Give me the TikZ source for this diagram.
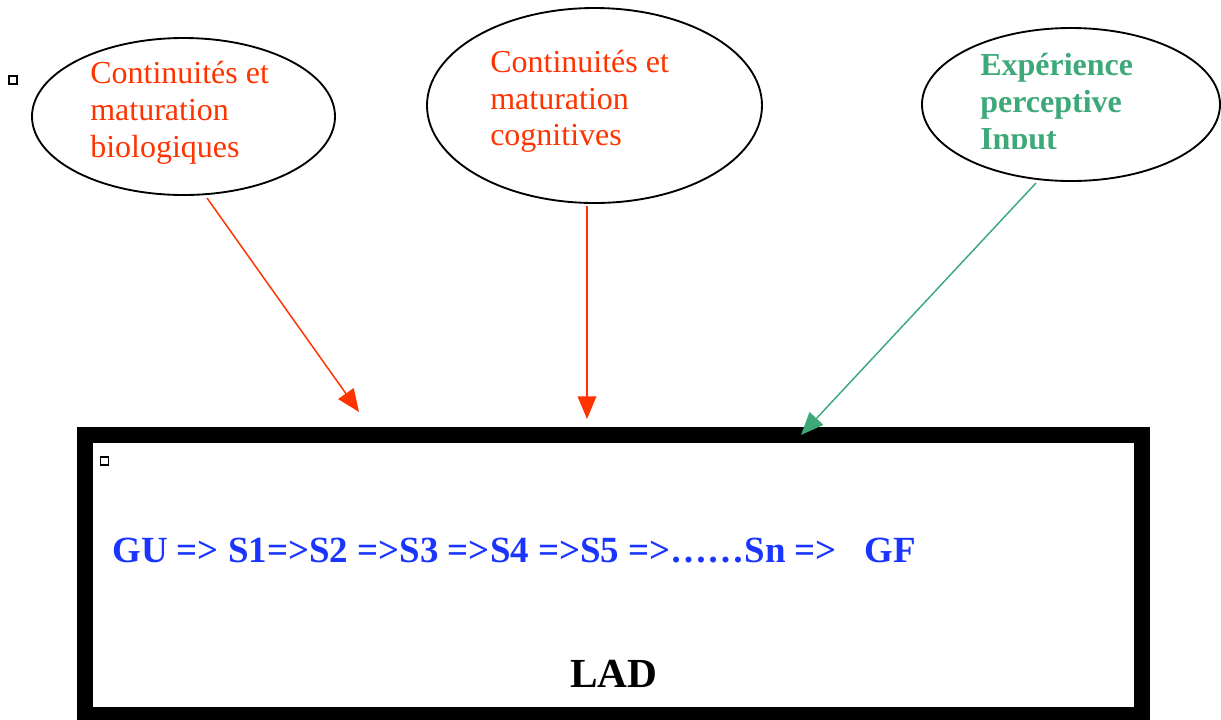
\documentclass[tikz,border=0pt]{standalone}
\usepackage{fontspec}
\setmainfont{Liberation Serif}
\usetikzlibrary{arrows.meta,shapes.geometric}
\definecolor{redt}{HTML}{FF3300}
\definecolor{greent}{HTML}{3DA878}
\definecolor{bluet}{HTML}{1A35FF}
\begin{document}
\begin{tikzpicture}[x=0.75pt,y=-0.75pt,
  oval/.style={ellipse,draw=black,line width=1.4pt,inner sep=0pt},
  lbl/.style={anchor=base west,inner sep=0pt,font=\fontsize{24}{28}\selectfont},
  redlbl/.style={lbl,text=redt},
  greenlbl/.style={lbl,text=greent,font=\bfseries\fontsize{24}{28}\selectfont},
  arr/.style={line width=1.1pt,-{Triangle[length=17pt,width=14pt]}},
  sq/.style={draw=black,line width=1.3pt,minimum size=6pt,inner sep=0pt},
  bigbox/.style={draw=black,line width=12pt}]
\useasboundingbox (0,0) rectangle (1221,719);
% ellipses
\node[oval,minimum width=227.25pt,minimum height=117.75pt] (e1) at (183.5,116.5) {};
\node[oval,minimum width=251.25pt,minimum height=146.25pt] (e2) at (594.5,105.5) {};
\node[oval,minimum width=223.5pt,minimum height=114.75pt] (e3) at (1071,104.5) {};
% texts
\node[redlbl] (t1a) at (90,83) {Continuités et};
\node[redlbl] (t1b) at (90,120) {maturation};
\node[redlbl] (t1c) at (90,157) {biologiques};
\node[redlbl] (t2a) at (490,72) {Continuités et};
\node[redlbl] (t2b) at (490,109) {maturation};
\node[redlbl] (t2c) at (490,145) {cognitives};
\node[greenlbl] (t3a) at (980,75) {Expérience};
\node[greenlbl] (t3b) at (980,112) {perceptive};
\begin{scope}
\clip (900,0) rectangle (1221,148);
\node[greenlbl] (t3c) at (980,149) {Input};
\end{scope}
% box
\draw[bigbox] (85,435) rectangle (1141.5,715);
\node[sq] (s1) at (13,80) {};
\node[sq] (s2) at (104.5,461) {};
\node[anchor=base west,inner sep=0pt,text=bluet,font=\bfseries\fontsize{27.7}{30}\selectfont] (seq) at (112,562) {GU => S1=>S2 =>S3 =>S4 =>S5 =>……Sn =>\ \ \ GF};
\node[anchor=base west,inner sep=0pt,font=\bfseries\fontsize{31}{34}\selectfont] (lad) at (570,687) {LAD};
% arrows
\coordinate (a1s) at (207,198);
\coordinate (a1e) at (359,412);
\coordinate (a2s) at (587,206);
\coordinate (a2e) at (587,419);
\coordinate (a3s) at (1036,183);
\coordinate (a3e) at (801,435);
\draw[arr,draw=redt,fill=redt] (a1s) -- (a1e);
\draw[arr,draw=redt,fill=redt] (a2s) -- (a2e);
\draw[arr,draw=greent,fill=greent] (a3s) -- (a3e);
\end{tikzpicture}
\end{document}
